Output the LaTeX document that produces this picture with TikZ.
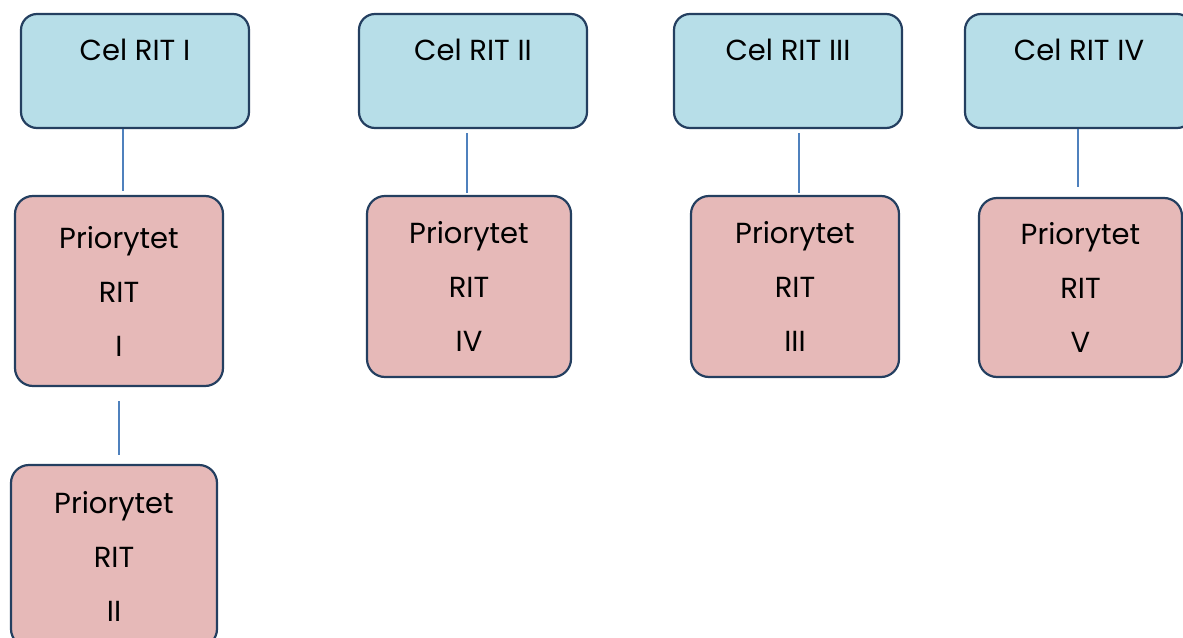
\documentclass[tikz,border=0pt]{standalone}
\usepackage{fontspec}
\setmainfont{Poppins}
\usepackage{tikz}
\definecolor{celfill}{HTML}{B7DEE8}
\definecolor{priofill}{HTML}{E6B9B8}
\definecolor{ramka}{HTML}{243F60}
\definecolor{linia}{HTML}{4F81BD}
\begin{document}
\begin{tikzpicture}[line cap=round,line join=round,x=1pt,y=-1pt,
  cel/.style={draw=ramka,fill=celfill,line width=2.2pt,rounded corners=16pt,minimum width=228pt,inner sep=0pt,text height=46pt,text depth=68pt,font=\fontsize{29}{54}\selectfont},
  prio/.style={draw=ramka,fill=priofill,line width=2.2pt,rounded corners=18pt,inner sep=0pt,align=center,font=\fontsize{29}{54}\selectfont},
  link/.style={draw=linia,line width=1.2pt,line cap=butt}]
\useasboundingbox (0,0) rectangle (1183,637);
% cele
\node[cel] (c1) at (135,71) {Cel RIT I};
\node[cel] (c2) at (473,71) {Cel RIT II};
\node[cel] (c3) at (788,71) {Cel RIT III};
\node[cel] (c4) at (1079,71) {Cel RIT IV};
% priorytety
\node[prio,minimum width=208pt,minimum height=190pt] (p1) at (119,291) {Priorytet\\RIT\\ I};
\node[prio,minimum width=204pt,minimum height=181pt] (p4) at (469,286.5) {Priorytet\\RIT\\ IV};
\node[prio,minimum width=208pt,minimum height=181pt] (p3) at (795,286.5) {Priorytet\\RIT\\ III};
\node[prio,minimum width=203pt,minimum height=179pt] (p5) at (1080.5,287.5) {Priorytet\\RIT\\ V};
\node[prio,minimum width=206pt,minimum height=182pt] (p2) at (114,556) {Priorytet\\RIT\\II};
% polaczenia
\draw[link] ([xshift=-12pt]c1.south) -- ([xshift=4pt,yshift=4pt]p1.north);
\draw[link] ([xshift=-6pt,yshift=-4pt]c2.south) -- ([xshift=-2pt,yshift=2pt]p4.north);
\draw[link] ([xshift=11pt,yshift=-4pt]c3.south) -- ([xshift=4pt,yshift=2pt]p3.north);
\draw[link] ([xshift=-1pt]c4.south) -- ([xshift=-2.5pt,yshift=10pt]p5.north);
\draw[link] ([yshift=-14pt]p1.south) -- ([xshift=5pt,yshift=9pt]p2.north);
\end{tikzpicture}
\end{document}
